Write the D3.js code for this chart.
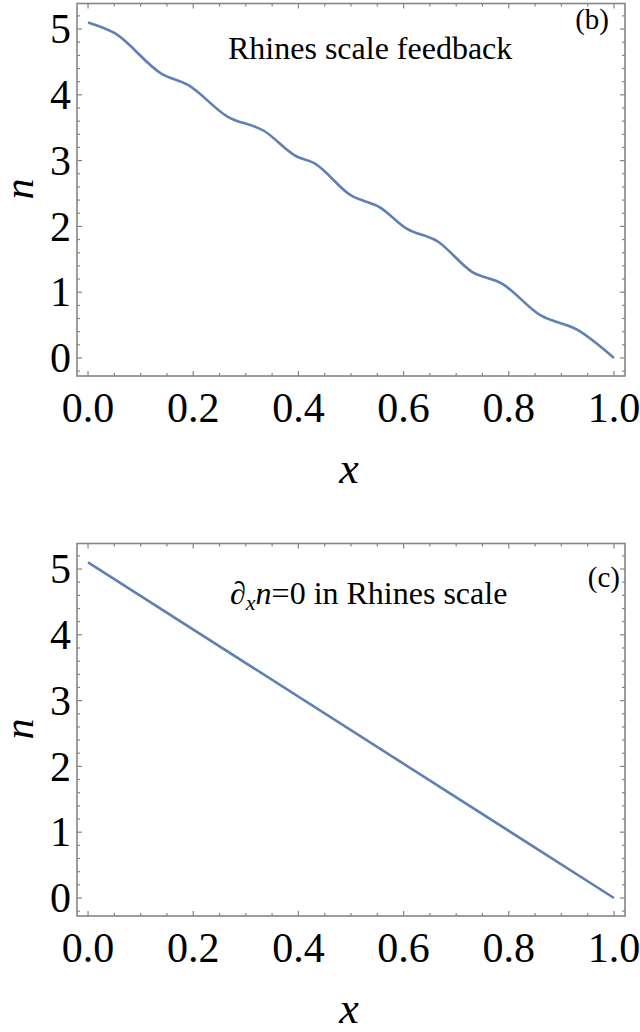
<!DOCTYPE html>
<html>
<head>
<meta charset="utf-8">
<script src="https://cdn.jsdelivr.net/npm/d3@7"></script>
<style>
  body { margin: 0; background: #fff; }
  svg text { font-family: "Liberation Serif", "Times New Roman", Times, Tinos, "Nimbus Roman", "DejaVu Serif", serif; fill: #000; }
</style>
</head>
<body>
<div id="field"></div>
<script>
'use strict';

// panel (b): Rhines scale feedback, wavy profile
let xsB = [0, 0.05, 0.14, 0.19, 0.265, 0.335, 0.395, 0.43, 0.50, 0.555, 0.605, 0.665, 0.73, 0.787, 0.86, 0.93, 1.0];
let nsB = [5.10, 4.94, 4.32, 4.15, 3.67, 3.45, 3.07, 2.96, 2.47, 2.29, 1.97, 1.77, 1.31, 1.13, 0.65, 0.43, 0.0];
// panel (c): straight profile
let xsC = [0, 1];
let nsC = [5.10, 0.0];

let xTicks = [0, 0.2, 0.4, 0.6, 0.8, 1.0];
let yTicks = [0, 1, 2, 3, 4, 5];

function Panel(svg, setting) {
  let top = setting.top,
      g = svg.append('g'),
      x = d3.scaleLinear().domain([-0.021, 1.021]).range([77, 625]),
      y = d3.scaleLinear().domain([-0.274, 5.388]).range([top + 372.5, top]),
      data = setting.xs.map(function(d, i){ return [d, setting.ns[i]]; }),
      x0 = x.range()[0], x1 = x.range()[1], y0 = y.range()[0], y1 = y.range()[1],
      frameCol = '#858585';

  g.append('rect').attr('x', x0).attr('y', y1).attr('width', x1 - x0).attr('height', y0 - y1)
    .attr('fill', 'none').attr('stroke', frameCol).attr('stroke-width', 1.6);

  // minor + major ticks on all four sides, pointing inward
  let xMinor = d3.range(0, 1.0001, 0.05), yMinor = d3.range(-0.2, 5.2001, 0.2);
  xMinor.forEach(function(v){
    let major = Math.abs(v * 5 - Math.round(v * 5)) < 1e-6, L = major ? 5 : 3;
    g.append('line').attr('x1', x(v)).attr('x2', x(v)).attr('y1', y0).attr('y2', y0 - L).attr('stroke', frameCol).attr('stroke-width', 1.2);
    g.append('line').attr('x1', x(v)).attr('x2', x(v)).attr('y1', y1).attr('y2', y1 + L).attr('stroke', frameCol).attr('stroke-width', 1.2);
  });
  yMinor.forEach(function(v){
    let major = Math.abs(v - Math.round(v)) < 1e-6, L = major ? 5 : 3;
    g.append('line').attr('y1', y(v)).attr('y2', y(v)).attr('x1', x0).attr('x2', x0 + L).attr('stroke', frameCol).attr('stroke-width', 1.2);
    g.append('line').attr('y1', y(v)).attr('y2', y(v)).attr('x1', x1).attr('x2', x1 - L).attr('stroke', frameCol).attr('stroke-width', 1.2);
  });

  g.selectAll('text.xt').data(xTicks).enter().append('text').attr('class', 'xt')
    .attr('x', function(d){ return x(d); }).attr('y', top + 418.5)
    .attr('text-anchor', 'middle').attr('font-size', 42)
    .text(function(d){ return d3.format('.1f')(d); });
  g.selectAll('text.yt').data(yTicks).enter().append('text').attr('class', 'yt')
    .attr('x', 71).attr('y', function(d){ return y(d); }).attr('dy', '0.34em')
    .attr('text-anchor', 'end').attr('font-size', 42)
    .text(function(d){ return d; });

  g.append('text').attr('x', 349).attr('y', top + 479.5).attr('text-anchor', 'middle')
    .attr('font-size', 44).attr('font-style', 'italic').text('x');
  g.append('text').attr('transform', 'translate(33,' + (top + 185.5) + ') rotate(-90)').attr('text-anchor', 'middle')
    .attr('font-size', 42).attr('font-style', 'italic').text('n');

  let line = d3.line().x(function(d){ return x(d[0]); }).y(function(d){ return y(d[1]); }).curve(d3.curveMonotoneX);
  g.append('path').datum(data).attr('d', line).attr('fill', 'none')
    .attr('stroke', '#5e81b5').attr('stroke-width', 2.6).attr('stroke-linejoin', 'round');

  return g;
}

let svg = d3.select('#field').append('svg').attr('width', 640).attr('height', 1032);

let gB = Panel(svg, { top: 3.5, xs: xsB, ns: nsB });
gB.append('text').attr('x', 228).attr('y', 59).attr('font-size', 32).text('Rhines scale feedback');
gB.append('text').attr('x', 609).attr('y', 29).attr('text-anchor', 'end').attr('font-size', 29).text('(b)');

let gC = Panel(svg, { top: 543.5, xs: xsC, ns: nsC });
let t = gC.append('text').attr('x', 230).attr('y', 604).attr('font-size', 32);
t.append('tspan').text('\u2202');
t.append('tspan').attr('font-style', 'italic').attr('font-size', 22).attr('dy', 6).text('x');
t.append('tspan').attr('font-style', 'italic').attr('dy', -6).text('n');
t.append('tspan').text('=0 in Rhines scale');
gC.append('text').attr('x', 620).attr('y', 587).attr('text-anchor', 'end').attr('font-size', 29).text('(c)');
</script>
</body>
</html>
